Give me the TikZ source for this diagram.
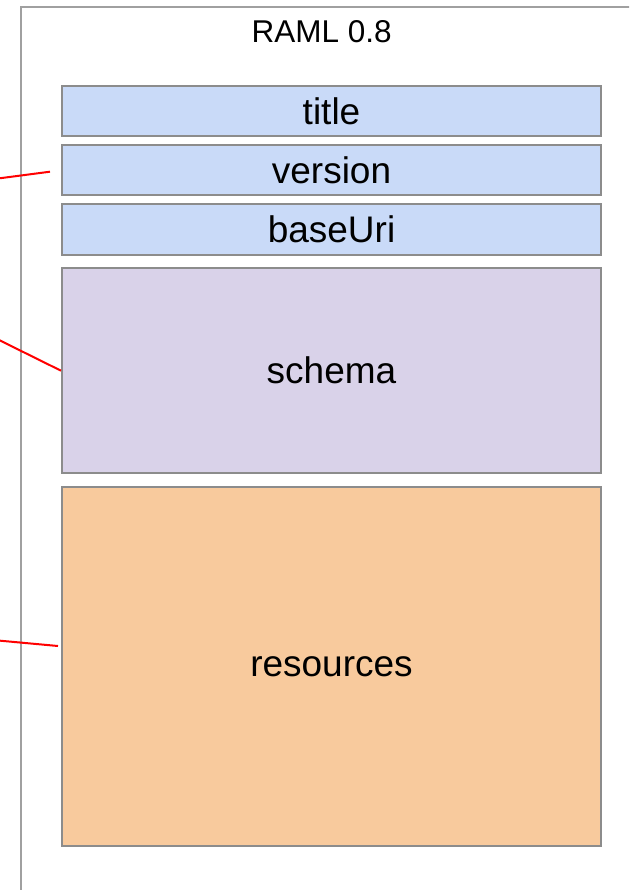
\documentclass[tikz,border=0pt]{standalone}
\usepackage{fontspec}
\setmainfont{Liberation Sans}
\definecolor{boxblue}{HTML}{C9DAF8}
\definecolor{boxpurple}{HTML}{D9D2E9}
\definecolor{boxorange}{HTML}{F8CA9D}
\definecolor{edgegray}{HTML}{8C8C8C}
\definecolor{outergray}{HTML}{A0A0A0}
\definecolor{linkred}{HTML}{FF0000}
\begin{document}
\begin{tikzpicture}[x=1pt,y=-1pt,
  field/.style={draw=edgegray, line width=2pt, rectangle, inner sep=0pt,
    minimum width=539pt, font=\fontsize{37}{41}\selectfont},
  link/.style={draw=linkred, line width=2pt}]
\useasboundingbox (0,0) rectangle (629,890);
\clip (0,0) rectangle (629,890);
\fill[white] (0,0) rectangle (629,890);
% outer frame (cut off at right and bottom)
\node[draw=outergray, line width=2.2pt, rectangle, inner sep=0pt,
  minimum width=640pt, minimum height=910pt, anchor=north west] (frame) at (19.5,6) {};
\node[font=\fontsize{31.5}{35}\selectfont, anchor=base] (head) at (321.7,42.3) {RAML 0.8};
\node[field, fill=boxblue, minimum height=50.5pt] (title) at (331.5,111.2) {title};
\node[field, fill=boxblue, minimum height=50.5pt] (version) at (331.5,170.2) {version};
\node[field, fill=boxblue, minimum height=51.5pt] (baseuri) at (331.5,229.7) {baseUri};
\node[field, fill=boxpurple, minimum height=204.5pt] (schema) at (331.5,370.7) {schema};
\node[field, fill=boxorange, minimum height=359.5pt] (resources) at (331.5,666.7) {resources};
% red connectors from outside the frame
\coordinate (v0) at (-2,178.5);
\coordinate (v1) at (50,171.7);
\coordinate (s0) at (-2,339.5);
\coordinate (r0) at (-2,640.5);
\coordinate (r1) at (58,646);
\draw[link] (v0) -- (v1);
\draw[link] (s0) -- (schema.west |- 0,370.7);
\draw[link] (r0) -- (r1);
\end{tikzpicture}
\end{document}
